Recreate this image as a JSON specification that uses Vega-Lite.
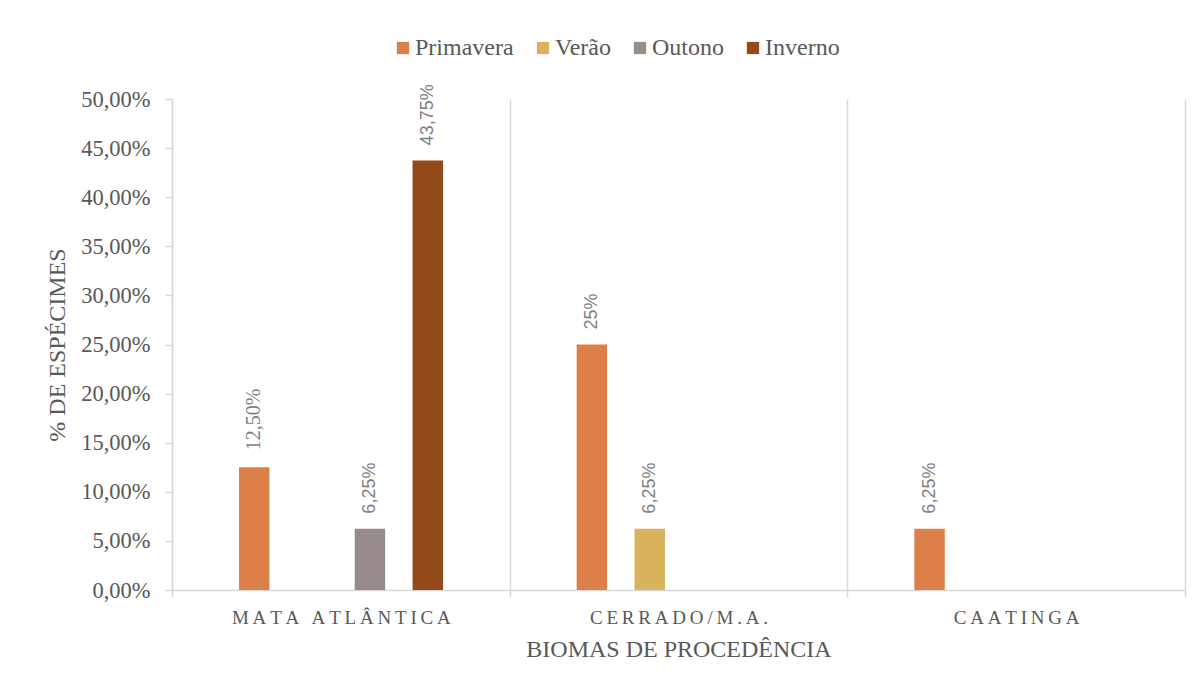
{
  "$schema": "https://vega.github.io/schema/vega-lite/v6.json",
  "width": 1013,
  "height": 491,
  "autosize": {"type": "none"},
  "padding": {"left": 172, "top": 99, "right": 19, "bottom": 98},
  "background": "white",
  "config": {"view": {"stroke": null}, "font": "Liberation Serif"},
  "data": {
    "values": [
      {"bioma": "MATA ATLÂNTICA", "estacao": "Primavera", "valor": 12.5, "rotulo": "12,50%"},
      {"bioma": "MATA ATLÂNTICA", "estacao": "Outono", "valor": 6.25, "rotulo": "6,25%"},
      {"bioma": "MATA ATLÂNTICA", "estacao": "Inverno", "valor": 43.75, "rotulo": "43,75%"},
      {"bioma": "CERRADO/M.A.", "estacao": "Primavera", "valor": 25, "rotulo": "25%"},
      {"bioma": "CERRADO/M.A.", "estacao": "Verão", "valor": 6.25, "rotulo": "6,25%"},
      {"bioma": "CAATINGA", "estacao": "Primavera", "valor": 6.25, "rotulo": "6,25%"}
    ]
  },
  "encoding": {
    "x": {
      "field": "bioma", "type": "nominal",
      "sort": ["MATA ATLÂNTICA", "CERRADO/M.A.", "CAATINGA"],
      "scale": {"paddingInner": 0, "paddingOuter": 0},
      "axis": {
        "title": "BIOMAS DE PROCEDÊNCIA",
        "titleFont": "Liberation Serif", "titleFontSize": 24, "titleFontWeight": "normal", "titleColor": "#595959",
        "titlePadding": 10,
        "labelFont": "Liberation Serif", "labelFontSize": 19, "labelColor": "#595959", "labelPadding": 11,
        "labelAngle": 0, "labelLimit": 0,
        "labelExpr": "join(split(datum.label, ''), '\u2009')",
        "domainColor": "#D9D9D9", "domainWidth": 1.5,
        "tickColor": "#D9D9D9", "tickSize": 7, "tickWidth": 1.5,
        "tickBand": "extent",
        "grid": true, "gridColor": "#D9D9D9", "gridWidth": 1.5
      }
    },
    "xOffset": {
      "field": "estacao", "type": "nominal",
      "sort": ["Primavera", "Verão", "Outono", "Inverno"],
      "scale": {"domain": ["Primavera", "Verão", "Outono", "Inverno"], "paddingInner": 0.474, "paddingOuter": 0, "range": [67, 271]}
    },
    "y": {
      "field": "valor", "type": "quantitative",
      "scale": {"domain": [0, 50], "nice": false},
      "axis": {
        "title": "% DE ESPÉCIMES",
        "titleFont": "Liberation Serif", "titleFontSize": 24, "titleFontWeight": "normal", "titleColor": "#595959",
        "titlePadding": 11,
        "values": [0, 5, 10, 15, 20, 25, 30, 35, 40, 45, 50],
        "labelExpr": "replace(format(datum.value, '.2f'), '.', ',') + '%'",
        "labelFont": "Liberation Serif", "labelFontSize": 22.5, "labelColor": "#595959", "labelPadding": 15,
        "domainColor": "#D9D9D9", "domainWidth": 1.5,
        "tickColor": "#D9D9D9", "tickSize": 7, "tickWidth": 1.5,
        "grid": false
      }
    }
  },
  "layer": [
    {
      "mark": {"type": "bar"},
      "encoding": {
        "color": {
          "field": "estacao", "type": "nominal",
          "scale": {"domain": ["Primavera", "Verão", "Outono", "Inverno"], "range": ["#DD7F48", "#D9B25C", "#968B89", "#924A1B"]},
          "legend": {
            "title": null, "orient": "none", "direction": "horizontal", "legendX": 219, "legendY": -63,
            "labelFont": "Liberation Serif", "labelFontSize": 24, "labelColor": "#595959",
            "symbolType": "square", "symbolSize": 150, "symbolStrokeWidth": 0, "labelOffset": 0, "columnPadding": 17
          }
        }
      }
    },
    {
      "transform": [{"filter": "datum.rotulo == '12,50%'"}],
      "mark": {"type": "text", "angle": 270, "align": "left", "baseline": "middle", "dx": 17, "font": "Liberation Serif", "fontSize": 20, "color": "#7F7F7F"},
      "encoding": {"text": {"field": "rotulo"}}
    },
    {
      "transform": [{"filter": "datum.rotulo != '12,50%'"}],
      "mark": {"type": "text", "angle": 270, "align": "left", "baseline": "middle", "dx": 15, "font": "Liberation Sans", "fontSize": 18, "color": "#7F7F7F"},
      "encoding": {"text": {"field": "rotulo"}}
    }
  ]
}
